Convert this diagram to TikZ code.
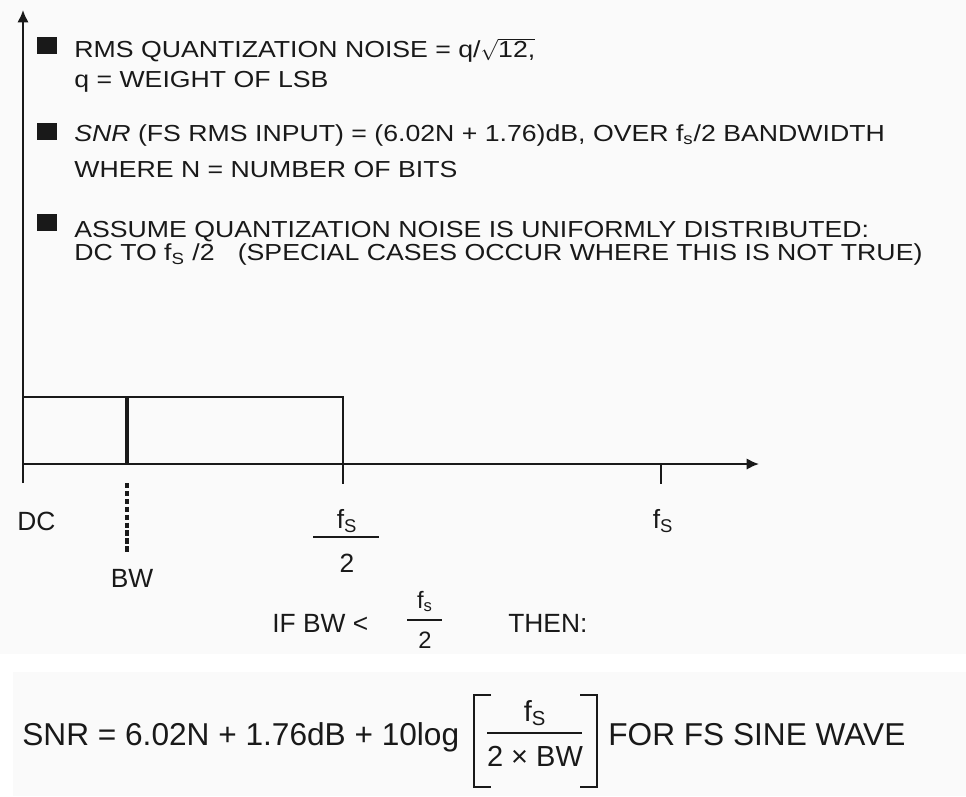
\documentclass[tikz,border=0pt]{standalone}
\usepackage{amsmath}
\usepackage{fontspec}
\setmainfont{Liberation Sans}
\newfontfamily\bulfont[FakeStretch=1.15]{Liberation Sans}
\usetikzlibrary{arrows.meta,positioning}
\tikzset{
  pnl/.style={fill=black!2},
  ax/.style={-{Latex[length=7pt,width=6.5pt]},line width=1.2pt,draw=black!90},
  ln/.style={draw=black!90,line width=1pt},
  bwl/.style={draw=black!90,line width=2.6pt},
  bwd/.style={bwl,dash pattern=on 3pt off 1.5pt},
  fb/.style={draw=black!90,line width=1pt},
  brk/.style={draw=black!90,line width=1.1pt},
  sq/.style={rectangle,fill=black!90,minimum width=.4cm,minimum height=.34cm,inner sep=0pt},
  tx/.style={font=\bulfont\fontsize{13.2}{15}\selectfont,text=black!90,anchor=base west,inner sep=0pt},
  lb/.style={font=\fontsize{15}{17}\selectfont,text=black!90,inner sep=0pt},
  lbs/.style={font=\fontsize{13.5}{15}\selectfont,text=black!90,inner sep=0pt,anchor=base},
  eq/.style={font=\fontsize{18}{20}\selectfont,text=black!90,inner sep=0pt,anchor=base west},
  eqs/.style={font=\fontsize{16.5}{18}\selectfont,text=black!90,inner sep=0pt,anchor=base},
}
\newcommand{\fsub}[1]{f\textsubscript{#1}}

\begin{document}
\begin{tikzpicture}[x=0.02cm,y=-0.02cm]
\useasboundingbox (0,0) rectangle (966,796);
\fill[pnl] (0,0) rectangle (966,654);
\fill[pnl] (13,672) rectangle (966,796);

% axes
\coordinate (yb) at (23,483); \coordinate (yt) at (23,10);
\coordinate (o) at (23,464);  \coordinate (xe) at (759,464);
\draw[ax] (yb) -- (yt);
\draw[ax] (o) -- (xe);

% flat noise floor from DC up to fs/2, the right edge is also the fs/2 tick
\coordinate (nl) at (23,397); \coordinate (nr) at (343,397);
\coordinate (ht) at (343,484);
\draw[ln] (nl) -- (nr) -- (ht);
\coordinate (ft) at (661,464); \coordinate (fbt) at (661,484);
\draw[ln] (ft) -- (fbt);
\coordinate (bwt) at (127,397); \coordinate (bwb) at (127,464);
\draw[bwl] (bwt) -- (bwb);
\coordinate (dt) at (127,483); \coordinate (db) at (127,554);
\draw[bwd] (dt) -- (db);

% bullets
\node[sq] (b1) at (47,45.5) {};
\node[tx] (t1a) at (74,57.5) {RMS QUANTIZATION NOISE = q/$\sqrt{\hbox{12,}}$};
\node[tx] (t1b) at (74,87) {q = WEIGHT OF LSB};
\node[sq] (b2) at (47,131.5) {};
\node[tx] (t2a) at (74,141) {\textit{SNR} (FS RMS INPUT) = (6.02N + 1.76)dB, OVER \fsub{s}/2 BANDWIDTH};
\node[tx] (t2b) at (74,177) {WHERE N = NUMBER OF BITS};
\node[sq] (b3) at (47,222) {};
\node[tx] (t3a) at (74,237) {ASSUME QUANTIZATION NOISE IS UNIFORMLY DISTRIBUTED:};
\node[tx] (t3b) at (74,260) {DC TO \fsub{S} /2\hspace{1em}(SPECIAL CASES OCCUR WHERE THIS IS NOT TRUE)};

% axis labels
\node[lb,anchor=base west] (dc) at (17,530) {DC};
\node[lb,anchor=base] (bw) at (132,587) {BW};
\node[lb,anchor=base] (hn) at (347,528) {\fsub{S}};
\node[lb,anchor=base] (hd) at (347,572) {2};
\coordinate (hl) at (313,537); \coordinate (hr) at (379,537);
\draw[fb] (hl) -- (hr);
\node[lb,anchor=base] (fs) at (663,528) {\fsub{S}};

% condition
\node[lb,anchor=base west] (if) at (272,632) {IF BW <};
\node[lbs] (cn) at (425,608) {\fsub{s}};
\node[lbs] (cd) at (425,648) {2};
\coordinate (cl) at (407,620); \coordinate (cr) at (442,620);
\draw[fb] (cl) -- (cr);
\node[lb,anchor=base west] (then) at (508,632) {THEN:};

% result
\node[eq] (snr) at (22,745) {SNR = 6.02N + 1.76dB + 10log};
\node[eqs] (rn) at (535,721) {\fsub{S}};
\node[eqs] (rd) at (535,766) {2 × BW};
\coordinate (rl) at (487,733); \coordinate (rr) at (582,733);
\draw[fb] (rl) -- (rr);
\draw[brk] (491,695) -| (474,787) -- (491,787);
\draw[brk] (580,695) -| (597,787) -- (580,787);
\node[eq] (sine) at (608,745) {FOR FS SINE WAVE};
\end{tikzpicture}
\end{document}
